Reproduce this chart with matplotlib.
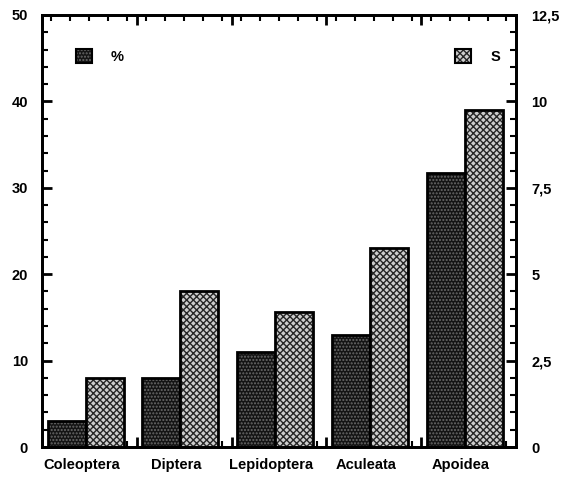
import matplotlib
matplotlib.use("Agg")
import matplotlib.pyplot as plt
import numpy as np
from matplotlib.patches import Patch
from matplotlib.ticker import MultipleLocator

plt.rcParams["font.family"] = "Liberation Sans"
plt.rcParams["font.weight"] = "bold"
plt.rcParams["hatch.linewidth"] = 1.0

categories = ["Coleoptera", "Diptera", "Lepidoptera", "Aculeata", "Apoidea"]
pct = [3, 8, 11, 13, 31.7]          # left axis, %
s_vals = [2.0, 4.5, 3.9, 5.75, 9.75]  # right axis, S
left_ticks = [0, 10, 20, 30, 40, 50]
right_ticks = [0, 2.5, 5, 7.5, 10, 12.5]
right_labels = ["0", "2,5", "5", "7,5", "10", "12,5"]

dark_face, dark_hatch = "#141414", "#6a6a6a"
light_face, light_hatch = "#cdcdcd", "#262626"

fig = plt.figure(figsize=(5.65, 4.82), dpi=100)
ax = fig.add_axes([0.0743, 0.0726, 0.8389, 0.8963])
ax2 = ax.twinx()

x = np.arange(len(categories))
w = 0.4
xc = x - 0.04  # bar groups sit a bit left of the group centre

# % bars (left scale)
ax.bar(xc - w / 2, pct, w, color=dark_face, edgecolor=dark_hatch, hatch=".....", linewidth=0, zorder=2)
ax.bar(xc - w / 2, pct, w, fill=False, edgecolor="black", linewidth=2, zorder=3)
# S bars (right scale)
ax2.bar(xc + w / 2, s_vals, w, color=light_face, edgecolor=light_hatch, hatch="xxxxx", linewidth=0, zorder=2)
ax2.bar(xc + w / 2, s_vals, w, fill=False, edgecolor="black", linewidth=2, zorder=3)

ax.set_xlim(-0.5, 4.5)
ax.set_ylim(0, 50)
ax2.set_ylim(0, 12.5)

ax.set_yticks(left_ticks)
ax.yaxis.set_minor_locator(MultipleLocator(2))
ax2.set_yticks(right_ticks, right_labels)
ax2.yaxis.set_minor_locator(MultipleLocator(0.5))

ax.set_xticks(np.arange(-0.5, 4.51, 1.0))
ax.set_xticklabels([])
ax.xaxis.set_minor_locator(MultipleLocator(0.2))
ax.tick_params(axis="x", which="both", top=True, direction="in")
ax.tick_params(which="major", length=7, width=2, labelsize=10.5)
ax.tick_params(which="minor", length=4, width=1.5)
ax.tick_params(axis="y", which="both", direction="in", right=False)
ax2.tick_params(axis="y", which="both", direction="in")
ax2.tick_params(which="major", length=7, width=2, labelsize=10.5, pad=11)
ax2.tick_params(which="minor", length=4, width=1.5)
ax.tick_params(axis="y", pad=10)

for a in (ax, ax2):
    for sp in a.spines.values():
        sp.set_linewidth(2)

sec = ax.secondary_xaxis("bottom")
sec.set_xticks(x - 0.08, categories)
sec.tick_params(length=0, labelsize=10.5, pad=8)
sec.spines["bottom"].set_visible(False)

h_pct = (Patch(facecolor=dark_face, edgecolor=dark_hatch, hatch=".....", linewidth=0),
         Patch(fill=False, edgecolor="black", linewidth=1.5))
h_s = (Patch(facecolor=light_face, edgecolor=light_hatch, hatch="xxxxx", linewidth=0),
       Patch(fill=False, edgecolor="black", linewidth=1.5))

leg_kw = dict(frameon=False, handlelength=1.1, handleheight=1.1, handletextpad=1.3,
              borderpad=0, borderaxespad=0, prop={"weight": "bold", "size": 10.5})
leg1 = ax2.legend([h_pct], ["%"], loc="center left", bbox_to_anchor=(0.072, 0.903), **leg_kw)
ax2.add_artist(leg1)
ax2.legend([h_s], ["S"], loc="center left", bbox_to_anchor=(0.872, 0.903), **leg_kw)

fig.savefig("out.png", dpi=100)
